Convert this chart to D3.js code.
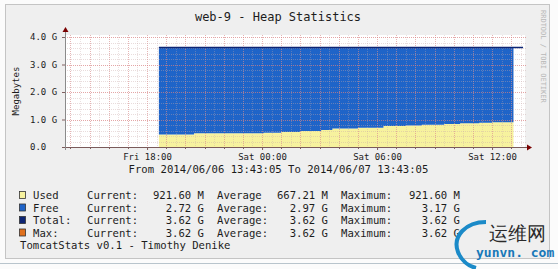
<!DOCTYPE html>
<html>
<head>
<meta charset="utf-8">
<script src="https://cdn.jsdelivr.net/npm/d3@7"></script>
<style>
  body { margin: 0; background: #fff; }
  svg text { font-family: "DejaVu Sans Mono", monospace; fill: #1c1c1c; }
</style>
</head>
<body>
<div id="chart"></div>
<script>
// time window of the graph
const startTime = "2014-06-06 13:43:05";
const endTime = "2014-06-07 13:43:05";
const xTicks = ["2014-06-06 18:00", "2014-06-07 00:00", "2014-06-07 06:00", "2014-06-07 12:00"];
const yTicks = [0, 1, 2, 3, 4];
const yTickLabels = ["0.0", "1.0 G", "2.0 G", "3.0 G", "4.0 G"];

// heap samples in GB (step series)
const usedTimes = ["2014-06-06 18:37", "2014-06-06 20:27", "2014-06-07 00:05", "2014-06-07 01:00",
  "2014-06-07 02:00", "2014-06-07 03:05", "2014-06-07 03:40", "2014-06-07 05:00", "2014-06-07 06:20",
  "2014-06-07 07:30", "2014-06-07 08:20", "2014-06-07 09:30", "2014-06-07 10:20", "2014-06-07 11:20",
  "2014-06-07 12:00", "2014-06-07 13:07"];
const usedGB = [0.455, 0.50, 0.52, 0.55, 0.58, 0.62, 0.67, 0.70, 0.76, 0.78, 0.81, 0.84, 0.86, 0.88, 0.90, 0.90];
const freeGB = [3.165, 3.12, 3.10, 3.07, 3.04, 3.00, 2.95, 2.92, 2.86, 2.84, 2.81, 2.78, 2.76, 2.74, 2.72, 2.72];
const totalTimes = ["2014-06-06 18:37", "2014-06-07 13:37"];
const totalGB = [3.62, 3.62];

// legend table
const legendNames = ["Used", "Free", "Total:", "Max:"];
const legendColors = ["#f7f29e", "#1f64c8", "#0d2574", "#e0701c"];
const legendCurrent = ["921.60 M", "2.72 G", "3.62 G", "3.62 G"];
const legendAvgLabel = ["Average", "Average:", "Average:", "Average:"];
const legendAverage = ["667.21 M", "2.97 G", "3.62 G", "3.62 G"];
const legendMaximum = ["921.60 M", "3.17 G", "3.62 G", "3.62 G"];

const width = 558, height = 269;
const plot = { left: 65, right: 525, top: 37, bottom: 147 };

const parseMin = d3.timeParse("%Y-%m-%d %H:%M");
const parseSec = d3.timeParse("%Y-%m-%d %H:%M:%S");

const used = usedTimes.map((t, i) => ({ t: parseMin(t), used: usedGB[i], free: freeGB[i] }));
const total = totalTimes.map((t, i) => ({ t: parseMin(t), v: totalGB[i] }));

const x = d3.scaleTime()
  .domain([parseSec(startTime), parseSec(endTime)])
  .range([plot.left, plot.right]);
const y = d3.scaleLinear()
  .domain([0, 4])
  .range([plot.bottom, plot.top]);

const svg = d3.select('#chart')
  .append('svg')
  .attr('width', width)
  .attr('height', height);

// canvas + frame
svg.append('rect').attr('x', 0).attr('y', 0).attr('width', width).attr('height', height).attr('fill', '#fbfbfb');
svg.append('rect')
  .attr('x', 5.5).attr('y', 4.5).attr('width', 544).attr('height', 254)
  .attr('fill', '#efefef').attr('stroke', '#c4c4c4');
svg.append('line')
  .attr('x1', 0).attr('x2', width).attr('y1', 263.5).attr('y2', 263.5)
  .attr('stroke', '#b8c4cc');

// plot background
svg.append('rect')
  .attr('x', plot.left).attr('y', plot.top - 2)
  .attr('width', plot.right - plot.left).attr('height', plot.bottom - plot.top + 2)
  .attr('fill', '#ffffff');

// stacked areas
const usedArea = d3.area()
  .curve(d3.curveStepAfter)
  .x(d => x(d.t))
  .y0(y(0))
  .y1(d => y(d.used));
const freeArea = d3.area()
  .curve(d3.curveStepAfter)
  .x(d => x(d.t))
  .y0(d => y(d.used))
  .y1(d => y(d.used + d.free));

svg.append('path').datum(used).attr('d', usedArea).attr('fill', legendColors[0]);
svg.append('path').datum(used).attr('d', freeArea).attr('fill', legendColors[1]);

// grid goes over the data, rrdtool style
const grid = svg.append('g').attr('class', 'grid');
const halfHours = x.ticks(d3.timeMinute.every(30));
const hours = x.ticks(d3.timeHour.every(1));
grid.selectAll('.vminor')
  .data(halfHours)
  .enter().append('line')
  .attr('x1', d => Math.round(x(d)) + 0.5).attr('x2', d => Math.round(x(d)) + 0.5)
  .attr('y1', plot.top - 2).attr('y2', plot.bottom)
  .attr('stroke', '#c8a8a8').attr('stroke-opacity', 0.35).attr('stroke-dasharray', '1,1');
grid.selectAll('.vmajor')
  .data(hours)
  .enter().append('line')
  .attr('x1', d => Math.round(x(d)) + 0.5).attr('x2', d => Math.round(x(d)) + 0.5)
  .attr('y1', plot.top - 2).attr('y2', plot.bottom)
  .attr('stroke', '#e08080').attr('stroke-opacity', 0.45).attr('stroke-dasharray', '1,1');
grid.selectAll('.hminor')
  .data(y.ticks(16))
  .enter().append('line')
  .attr('x1', plot.left).attr('x2', plot.right + 2)
  .attr('y1', d => Math.round(y(d)) + 0.5).attr('y2', d => Math.round(y(d)) + 0.5)
  .attr('stroke', '#c8a8a8').attr('stroke-opacity', 0.4).attr('stroke-dasharray', '1,1');
grid.selectAll('.hmajor')
  .data(yTicks)
  .enter().append('line')
  .attr('x1', plot.left).attr('x2', plot.right + 2)
  .attr('y1', d => Math.round(y(d)) + 0.5).attr('y2', d => Math.round(y(d)) + 0.5)
  .attr('stroke', '#e07070').attr('stroke-opacity', 0.5).attr('stroke-dasharray', '1,1');

// total (and max, same value) line
const line = d3.line().x(d => x(d.t)).y(d => y(d.v));
svg.append('path').datum(total).attr('d', line)
  .attr('fill', 'none').attr('stroke', legendColors[2]).attr('stroke-width', 1.5);

// axes
const xAxis = svg.append('g')
  .attr('transform', `translate(0,${plot.bottom})`)
  .call(d3.axisBottom(x)
    .tickValues(xTicks.map(parseMin))
    .tickSize(3)
    .tickFormat(d3.timeFormat('%a %H:%M')));
xAxis.select('.domain').remove();
xAxis.selectAll('line').attr('stroke', '#806060');
xAxis.selectAll('text').attr('y', 7).attr('font-size', 9).attr('font-family', '"DejaVu Sans Mono", monospace').style('fill', '#1c1c1c');

const yAxis = svg.append('g')
  .attr('transform', `translate(${plot.left},0)`)
  .call(d3.axisLeft(y)
    .tickValues(yTicks)
    .tickSize(3)
    .tickFormat((d, i) => yTickLabels[i]));
yAxis.select('.domain').remove();
yAxis.selectAll('line').attr('stroke', '#806060');
yAxis.selectAll('text')
  .attr('x', -35).attr('text-anchor', 'start')
  .attr('font-size', 9).attr('font-family', '"DejaVu Sans Mono", monospace').style('fill', '#1c1c1c');

// hour ticks on x axis
svg.selectAll('.xminor')
  .data(hours)
  .enter().append('line')
  .attr('x1', d => Math.round(x(d)) + 0.5).attr('x2', d => Math.round(x(d)) + 0.5)
  .attr('y1', plot.bottom).attr('y2', plot.bottom + 2)
  .attr('stroke', '#806060');

// axis lines with arrows
svg.append('line')
  .attr('x1', plot.left - 3).attr('x2', plot.right + 3)
  .attr('y1', plot.bottom + 0.5).attr('y2', plot.bottom + 0.5)
  .attr('stroke', '#7a5a5a');
svg.append('line')
  .attr('x1', plot.left + 0.5).attr('x2', plot.left + 0.5)
  .attr('y1', plot.bottom + 3).attr('y2', plot.top - 5)
  .attr('stroke', '#8a8a8a');
svg.append('path')
  .attr('d', `M${plot.right + 2},${plot.bottom - 2.5}L${plot.right + 7},${plot.bottom + 0.5}L${plot.right + 2},${plot.bottom + 3.5}Z`)
  .attr('fill', '#7a0000');
svg.append('path')
  .attr('d', `M${plot.left - 2.5},${plot.top - 5}L${plot.left + 0.5},${plot.top - 10}L${plot.left + 3.5},${plot.top - 5}Z`)
  .attr('fill', '#7a0000');

// titles
svg.append('text')
  .attr('x', 278).attr('y', 21)
  .attr('text-anchor', 'middle').attr('font-size', 12)
  .text('web-9 - Heap Statistics');
svg.append('text')
  .attr('transform', 'translate(18.5,91) rotate(-90)')
  .attr('text-anchor', 'middle').attr('font-size', 9)
  .text('Megabytes');
svg.append('text')
  .attr('x', 278.5).attr('y', 173)
  .attr('text-anchor', 'middle').attr('font-size', 10.6)
  .text('From 2014/06/06 13:43:05 To 2014/06/07 13:43:05');
svg.append('text')
  .attr('transform', 'translate(541,10) rotate(90)')
  .attr('font-size', 7).style('fill', '#b8b8b8')
  .text('RRDTOOL / TOBI OETIKER');

// legend rows
const rowY = i => 199 + i * 12.5;
const legend = svg.append('g').attr('font-size', 10.6);
const rows = legend.selectAll('.row')
  .data(legendNames)
  .enter().append('g')
  .attr('transform', (d, i) => `translate(0,${rowY(i)})`);
rows.append('rect')
  .attr('x', 19.5).attr('y', -7.5).attr('width', 6).attr('height', 7)
  .attr('fill', (d, i) => legendColors[i]).attr('stroke', '#333').attr('stroke-width', 0.8);
rows.append('text').attr('x', 33).text(d => d);
rows.append('text').attr('x', 87).text('Current:');
rows.append('text').attr('x', 204).attr('text-anchor', 'end').text((d, i) => legendCurrent[i]);
rows.append('text').attr('x', 217).text((d, i) => legendAvgLabel[i]);
rows.append('text').attr('x', 328).attr('text-anchor', 'end').text((d, i) => legendAverage[i]);
rows.append('text').attr('x', 341).text('Maximum:');
rows.append('text').attr('x', 460).attr('text-anchor', 'end').text((d, i) => legendMaximum[i]);
legend.append('text').attr('x', 20).attr('y', rowY(4)).text('TomcatStats v0.1 - Timothy Denike');

// site watermark in the corner
const wm = svg.append('g');
wm.append('path')
  .attr('d', 'M486,222 C466,222 452,236 458,252 C461,260 468,266 476,268')
  .attr('fill', 'none').attr('stroke', '#1b8ac8').attr('stroke-width', 4);
wm.append('text')
  .attr('x', 489).attr('y', 240).attr('font-size', 19)
  .attr('font-family', '"Noto Sans CJK SC", sans-serif').style('fill', '#2a2a2a')
  .text('运维网');
wm.append('text')
  .attr('x', 476).attr('y', 257).attr('font-size', 13).attr('font-weight', 'bold')
  .attr('font-family', '"DejaVu Sans", sans-serif').style('fill', '#1878b8')
  .text('yunvn. com');
</script>
</body>
</html>
